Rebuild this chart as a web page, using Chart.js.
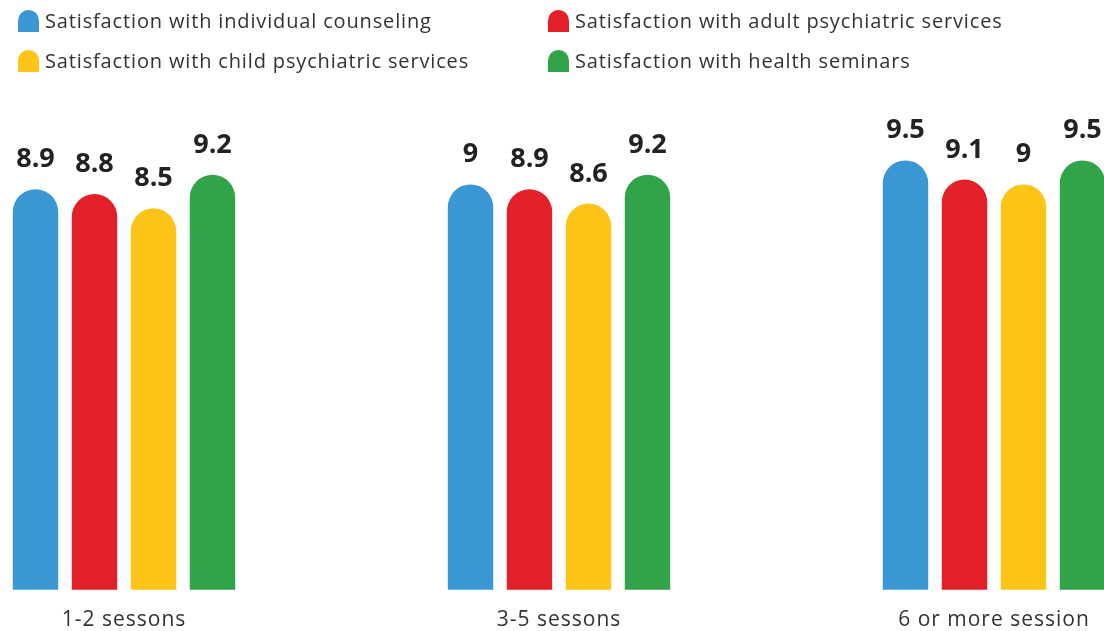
<!DOCTYPE html>
<html>
<head>
<meta charset="utf-8">
<script src="https://cdn.jsdelivr.net/npm/chart.js@4"></script>
<style>
  html, body { margin: 0; padding: 0; background: #fff; }
  #wrap { position: relative; width: 1104px; height: 631px; }
  #chart { display: block; }
  #legend { position: absolute; left: 0; top: 0; width: 1104px; height: 90px; font-family: "Open Sans", sans-serif; font-size: 20px; letter-spacing: 0.85px; color: #333; }
  .item { position: absolute; height: 22px; line-height: 22px; white-space: nowrap; }
  .item .box { position: absolute; left: 0; top: 0; width: 21px; height: 22px; border-radius: 11px 11px 0 0; }
  .item .txt { position: absolute; left: 27px; top: 0; }
</style>
</head>
<body>
<div id="wrap">
  <canvas id="chart" width="1104" height="631"></canvas>
  <div id="legend"></div>
</div>
<script>
const categories = ['1-2 sessons', '3-5 sessons', '6 or more session'];
const seriesNames = [
  'Satisfaction with individual counseling',
  'Satisfaction with adult psychiatric services',
  'Satisfaction with child psychiatric services',
  'Satisfaction with health seminars'
];
const individualCounseling = [8.9, 9, 9.5];
const adultPsychiatric = [8.8, 8.9, 9.1];
const childPsychiatric = [8.5, 8.6, 9];
const healthSeminars = [9.2, 9.2, 9.5];
const colors = ['#3A97D4', '#E32027', '#FEC418', '#31A349'];

const values = [individualCounseling, adultPsychiatric, childPsychiatric, healthSeminars];

// legend laid out in two columns, like the original
const legendPos = [
  { left: 18, top: 10 },
  { left: 548, top: 10 },
  { left: 18, top: 50 },
  { left: 548, top: 50 }
];
const legend = document.getElementById('legend');
seriesNames.forEach((name, i) => {
  const item = document.createElement('div');
  item.className = 'item';
  item.style.left = legendPos[i].left + 'px';
  item.style.top = legendPos[i].top + 'px';
  item.innerHTML = '<span class="box" style="background:' + colors[i] + '"></span><span class="txt"></span>';
  item.querySelector('.txt').textContent = name;
  legend.appendChild(item);
});

// the axis labels in the original are a bit wider set
const spacing = {
  id: 'spacing',
  beforeDraw(chart) { chart.ctx.letterSpacing = '1px'; }
};

// value labels above the bars
const valueLabels = {
  id: 'valueLabels',
  afterDatasetsDraw(chart) {
    const ctx = chart.ctx;
    ctx.save();
    ctx.letterSpacing = '0px';
    ctx.font = 'bold 27px "Open Sans", sans-serif';
    ctx.fillStyle = '#222';
    ctx.textAlign = 'center';
    ctx.textBaseline = 'alphabetic';
    chart.data.datasets.forEach((ds, i) => {
      chart.getDatasetMeta(i).data.forEach((bar, j) => {
        ctx.fillText(String(ds.data[j]), bar.x, bar.y - 22);
      });
    });
    ctx.restore();
  }
};

const chart = new Chart(document.getElementById('chart').getContext('2d'), {
  type: 'bar',
  data: {
    labels: categories,
    datasets: seriesNames.map((name, i) => ({
      label: name,
      data: values[i],
      backgroundColor: colors[i],
      borderRadius: 100,
      borderSkipped: 'start',
      categoryPercentage: 0.5425,
      barPercentage: 0.77,
      clip: { left: false, right: false, top: false, bottom: 0 }
    }))
  },
  options: {
    responsive: false,
    animation: false,
    layout: {
      padding: { left: 124, right: 110, top: 110, bottom: -20 }
    },
    scales: {
      x: {
        offset: false,
        grid: { display: false, drawTicks: false },
        border: { display: false },
        ticks: {
          padding: 6,
          color: '#333',
          font: { family: '"Open Sans", sans-serif', size: 21, lineHeight: 2.34 }
        }
      },
      y: {
        display: false,
        min: 0.55,
        max: 10.55
      }
    },
    plugins: {
      legend: { display: false },
      tooltip: { enabled: false }
    }
  },
  plugins: [spacing, valueLabels]
});
</script>
</body>
</html>
